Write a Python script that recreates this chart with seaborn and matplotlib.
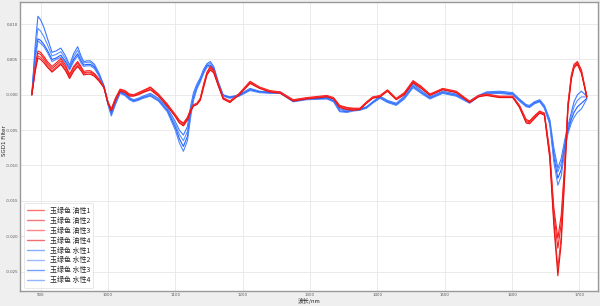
import numpy as np
import pandas as pd
import matplotlib
matplotlib.use("Agg")
import matplotlib.pyplot as plt
from matplotlib.ticker import FormatStrFormatter, MultipleLocator
import seaborn as sns

# wavelength grid (nm)
wavelength = [887, 892, 896, 900, 905, 910, 917, 923, 930, 937,
              943, 949, 955, 960, 964, 969, 974, 980, 987, 994,
              1000, 1005, 1011, 1018, 1025, 1032, 1038, 1045, 1052, 1063,
              1075, 1088, 1100, 1106, 1112, 1118, 1123, 1127, 1132, 1137,
              1142, 1147, 1152, 1157, 1164, 1171, 1181, 1195, 1211, 1225,
              1240, 1256, 1275, 1295, 1325, 1335, 1344, 1355, 1364, 1374,
              1384, 1393, 1404, 1415, 1428, 1440, 1453, 1465, 1478, 1497,
              1517, 1537, 1550, 1562, 1581, 1601, 1611, 1621, 1626, 1633,
              1641, 1648, 1656, 1662, 1668, 1673, 1678, 1683, 1688, 1692,
              1697, 1703, 1711]

# values in units of 1e-4
oil1 = [0, 40, 62, 60, 54, 47, 40, 45, 51, 42,
        29, 40, 47, 40, 33, 34, 34, 30, 22, 11,
        -10, -20, -5, 8, 6, 1, 0, 3, 6, 11,
        1, -13, -28, -36, -40, -32, -20, -14, -12, -5,
        15, 32, 40, 35, 15, -4, -9, 2, 19, 11,
        6, 4, -7, -4, -1, -4, -15, -18, -19, -19,
        -10, -3, -1, 7, -5, 3, 20, 12, 1, 9,
        5, -9, -1, 1, -2, -2, -15, -35, -37, -30,
        -23, -26, -80, -160, -203, -170, -100, -12, 28, 43,
        47, 35, -2]
oil2 = [0, 38, 59, 57, 51, 44, 37, 42, 48, 39,
        27, 38, 45, 38, 31, 32, 32, 29, 21, 11,
        -11, -21, -6, 7, 5, 0, -1, 2, 5, 10,
        0, -14, -29, -37, -41, -33, -21, -15, -13, -6,
        13, 31, 38, 34, 14, -5, -10, 1, 18, 10,
        5, 3, -8, -5, -2, -5, -16, -19, -20, -20,
        -11, -4, -2, 6, -6, 2, 19, 11, 0, 8,
        4, -10, -2, 0, -3, -3, -16, -37, -38, -31,
        -24, -27, -83, -168, -217, -182, -106, -15, 26, 41,
        46, 33, -3]
oil3 = [0, 35, 55, 53, 48, 41, 34, 39, 45, 36,
        25, 35, 42, 36, 30, 31, 31, 27, 20, 10,
        -11, -22, -7, 6, 4, -1, -1, 1, 4, 8,
        -1, -15, -30, -39, -43, -35, -22, -15, -13, -7,
        12, 29, 37, 32, 13, -5, -10, 1, 17, 10,
        5, 3, -8, -5, -2, -5, -17, -20, -21, -20,
        -11, -4, -2, 6, -6, 1, 18, 10, 0, 8,
        4, -10, -2, 0, -3, -3, -17, -38, -40, -33,
        -25, -28, -87, -177, -245, -200, -114, -17, 24, 40,
        44, 32, -3]
oil4 = [0, 33, 52, 50, 45, 39, 32, 37, 43, 34,
        23, 33, 40, 34, 28, 29, 29, 26, 19, 10,
        -12, -23, -8, 5, 3, -2, -2, 0, 3, 7,
        -2, -16, -31, -40, -44, -36, -23, -16, -14, -8,
        10, 28, 35, 31, 12, -6, -11, 0, 16, 9,
        4, 2, -9, -6, -3, -6, -18, -21, -22, -21,
        -12, -5, -3, 5, -7, 0, 17, 9, -1, 7,
        3, -11, -3, -1, -4, -4, -18, -40, -41, -34,
        -26, -29, -90, -185, -256, -210, -120, -20, 22, 38,
        43, 30, -4]
water1 = [0, 70, 111, 106, 95, 80, 60, 62, 66, 55,
          42, 58, 68, 55, 47, 48, 48, 43, 30, 13,
          -10, -24, -10, 5, 2, -4, -7, -5, -2, 2,
          -5, -18, -38, -50, -57, -45, -15, 3, 15, 24,
          36, 44, 47, 40, 18, 0, -3, 0, 9, 5,
          4, 4, -8, -5, -4, -8, -20, -22, -20, -20,
          -17, -10, -2, -8, -12, -2, 16, 6, -3, 5,
          1, -9, -1, 4, 5, 3, -6, -14, -15, -10,
          -7, -15, -35, -75, -104, -90, -65, -44, -25, -10,
          0, 5, -2]
water2 = [0, 63, 94, 90, 82, 71, 55, 57, 61, 51,
          40, 54, 63, 52, 45, 46, 46, 41, 29, 12,
          -11, -26, -11, 4, 1, -5, -8, -6, -3, 1,
          -6, -20, -42, -56, -65, -52, -20, -1, 13, 22,
          34, 42, 45, 38, 17, -1, -4, -1, 8, 4,
          3, 3, -9, -6, -5, -9, -21, -23, -21, -21,
          -18, -11, -3, -9, -13, -3, 14, 5, -4, 4,
          0, -10, -2, 3, 4, 2, -7, -15, -16, -11,
          -8, -16, -37, -81, -109, -97, -70, -48, -30, -17,
          -8, -3, -3]
water3 = [0, 56, 79, 77, 71, 63, 50, 52, 56, 47,
          37, 50, 58, 48, 42, 43, 43, 39, 27, 12,
          -13, -28, -13, 3, 0, -6, -9, -7, -4, -1,
          -8, -22, -46, -62, -73, -59, -25, -5, 10, 20,
          32, 41, 42, 37, 15, -1, -4, -1, 7, 4,
          3, 3, -9, -6, -5, -9, -23, -24, -22, -21,
          -18, -11, -4, -10, -14, -5, 12, 3, -5, 3,
          -1, -11, -2, 2, 3, 1, -8, -16, -17, -12,
          -9, -18, -40, -88, -118, -106, -75, -51, -35, -25,
          -17, -12, -5]
water4 = [0, 50, 76, 73, 68, 60, 47, 50, 53, 45,
          35, 47, 55, 45, 40, 41, 41, 37, 26, 11,
          -14, -30, -14, 2, -1, -7, -10, -8, -5, -2,
          -9, -24, -50, -68, -80, -65, -30, -8, 8, 18,
          30, 39, 40, 35, 14, -2, -5, -2, 6, 3,
          2, 2, -10, -7, -6, -10, -24, -25, -23, -22,
          -19, -12, -5, -11, -15, -6, 10, 2, -6, 2,
          -2, -12, -3, 1, 2, 0, -9, -17, -18, -13,
          -10, -19, -42, -95, -128, -115, -80, -55, -40, -32,
          -25, -20, -6]

series_names = ["玉绿色 油性1", "玉绿色 油性2", "玉绿色 油性3", "玉绿色 油性4",
                "玉绿色 水性1", "玉绿色 水性2", "玉绿色 水性3", "玉绿色 水性4"]
series_vals = [oil1, oil2, oil3, oil4, water1, water2, water3, water4]
colors = ["#ff1a1a", "#f02020", "#ff3838", "#e81010",
          "#3a78ff", "#5a8fff", "#1f5fff", "#4d86ff"]
UNIT = 1e-4

frames = []
for name, vals in zip(series_names, series_vals):
    frames.append(pd.DataFrame({"wl": wavelength,
                                "val": np.array(vals, dtype=float) * UNIT,
                                "series": name}))
df = pd.concat(frames, ignore_index=True)

sns.set_theme(style="whitegrid")
plt.rcParams['font.family'] = ['Noto Sans CJK SC', 'DejaVu Sans']
plt.rcParams['axes.unicode_minus'] = False

fig = plt.figure(figsize=(6.0, 3.06), dpi=100, facecolor="#efefef")
ax = fig.add_axes([0.034, 0.048, 0.962, 0.945])
ax.set_facecolor("white")

sns.lineplot(data=df, x="wl", y="val", hue="series", hue_order=series_names,
             palette=colors, linewidth=0.8, ax=ax, legend=True)

# oil (red) lines drawn above water (blue) lines
for i, line in enumerate(ax.get_lines()[:8]):
    line.set_zorder(3 if i < 4 else 2)

ax.set_xlim(870, 1727)
ax.set_ylim(-0.0278, 0.0131)
ax.xaxis.set_major_locator(MultipleLocator(100))
ax.yaxis.set_major_locator(MultipleLocator(0.005))
ax.yaxis.set_major_formatter(FormatStrFormatter('%.3f'))
ax.tick_params(axis='both', labelsize=2.8, length=1, pad=0.5, colors="#555555")
for lbl in ax.get_xticklabels() + ax.get_yticklabels():
    lbl.set_family("DejaVu Sans")
ax.grid(True, color="#e6e6e6", linewidth=0.6)
for s in ax.spines.values():
    s.set_color("#999999")
    s.set_linewidth(1.0)

ax.set_xlabel("波长/nm", fontsize=4.2, labelpad=0)
ax.set_ylabel("SGD1 Filter", fontsize=4.0, labelpad=0, family="DejaVu Sans")
ax.xaxis.set_label_coords(0.5, -0.024)
ax.yaxis.set_label_coords(-0.0235, 0.52)

leg = ax.legend(loc="lower left", fontsize=5, frameon=True, handlelength=2.4,
                labelspacing=0.28, borderpad=0.5, bbox_to_anchor=(0.0, 0.0))
leg.get_frame().set_edgecolor("#dddddd")
leg.get_frame().set_linewidth(0.6)
for line in leg.get_lines():
    line.set_linewidth(1.0)
    line.set_alpha(0.6)

fig.savefig("out.png", dpi=100, facecolor=fig.get_facecolor())
